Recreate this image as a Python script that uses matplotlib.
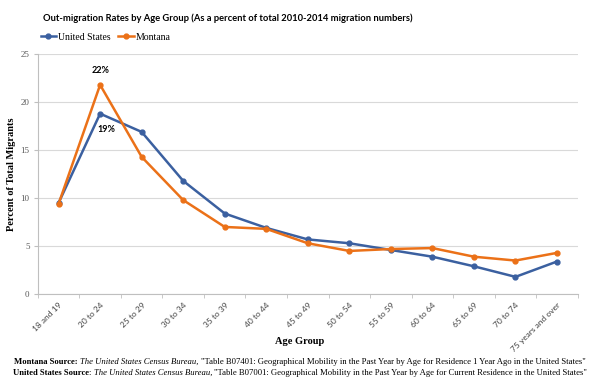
import matplotlib
matplotlib.use("Agg")
import matplotlib.pyplot as plt
import numpy as np

# Data
age_groups = ["18 and 19", "20 to 24", "25 to 29", "30 to 34", "35 to 39", "40 to 44",
              "45 to 49", "50 to 54", "55 to 59", "60 to 64", "65 to 69", "70 to 74",
              "75 years and over"]
us_values = [9.5, 18.8, 16.9, 11.8, 8.4, 6.9, 5.7, 5.3, 4.6, 3.9, 2.9, 1.8, 3.4]
mt_values = [9.4, 21.8, 14.3, 9.8, 7.0, 6.8, 5.3, 4.5, 4.7, 4.8, 3.9, 3.5, 4.3]

US_COLOR = "#3B60A0"
MT_COLOR = "#EB7118"
SANS = "Lato"
SERIF = "Liberation Serif"

fig = plt.figure(figsize=(6, 3.84), dpi=100, facecolor="white")
ax = fig.add_axes([0.063, 0.234, 0.9, 0.625])

x = np.arange(len(age_groups))
ax.plot(x, us_values, color=US_COLOR, lw=1.8, marker="o", ms=3.5, label="United States", zorder=3)
ax.plot(x, mt_values, color=MT_COLOR, lw=1.8, marker="o", ms=3.5, label="Montana", zorder=4)

# point labels at the peak
ax.annotate(f"{mt_values[1]:.0f}%", (x[1], mt_values[1]), xytext=(0, 7), textcoords="offset points",
            ha="center", va="bottom", fontsize=6.5, fontweight="bold", family=SANS)
ax.annotate(f"{us_values[1]:.0f}%", (x[1], us_values[1]), xytext=(4.5, -8), textcoords="offset points",
            ha="center", va="top", fontsize=6.5, fontweight="bold", family=SANS)

ax.set_xlim(-0.5, len(age_groups) - 0.5)
ax.set_ylim(0, 25)
ax.set_yticks([0, 5, 10, 15, 20, 25])
ax.yaxis.grid(True, color="#D9D9D9", lw=0.8)
ax.set_axisbelow(True)

# Excel-style category ticks between groups
ax.set_xticks(x)
ax.set_xticklabels(age_groups, rotation=45, ha="right", rotation_mode="anchor",
                   fontsize=6, family=SANS, color="#404040")
ax.tick_params(axis="x", length=0, pad=5)
ax.set_xticks(np.arange(len(age_groups) + 1) - 0.5, minor=True)
ax.tick_params(axis="x", which="minor", length=3, color="#BFBFBF")
ax.tick_params(axis="y", length=3, color="#BFBFBF", labelsize=6.5, labelcolor="#595959", pad=3)
for lab in ax.get_yticklabels():
    lab.set_family(SERIF)

for side in ["top", "right"]:
    ax.spines[side].set_visible(False)
for side in ["left", "bottom"]:
    ax.spines[side].set_color("#BFBFBF")
    ax.spines[side].set_linewidth(0.8)

ax.set_ylabel("Percent of Total Migrants", fontsize=7.5, fontweight="bold", family=SERIF, labelpad=3)
fig.text(0.5, 1 - 341 / 384, "Age Group", fontsize=7.5, fontweight="bold", family=SERIF,
         ha="center", va="center")

fig.canvas.draw()
renderer = fig.canvas.get_renderer()

# title, sized to the width it takes in the reference
title = fig.text(0.072, 0.953, "Out-migration Rates by Age Group (As a percent of total 2010-2014 migration numbers)",
                 fontsize=8, fontweight="bold", family=SANS, ha="left", va="center")
tw = title.get_window_extent(renderer).width
title.set_fontsize(8 * 370 / tw)

ax.legend(loc="center left", bbox_to_anchor=(0.005, 1.071), ncol=2, frameon=False,
          prop={"family": SERIF, "size": 7}, handlelength=1.6, handletextpad=0.2,
          columnspacing=0.8, borderaxespad=0, borderpad=0)

# source notes, built from bold / italic / plain pieces and centred
src_y = [1 - 362 / 384, 1 - 373 / 384]
src_parts = [
    [("Montana Source: ", "bold", "normal"),
     ("The United States Census Bureau, ", "normal", "italic"),
     ("\"Table B07401: Geographical Mobility in the Past Year by Age for Residence 1 Year Ago in the United States\"", "normal", "normal")],
    [("United States Source", "bold", "normal"),
     (": ", "normal", "normal"),
     ("The United States Census Bureau, ", "normal", "italic"),
     ("\"Table B07001: Geographical Mobility in the Past Year by Age for Current Residence in the United States\"", "normal", "normal")],
]
for yy, parts in zip(src_y, src_parts):
    texts = []
    total = 0
    for s, w, st in parts:
        t = fig.text(0, yy, s, fontsize=6.2, fontweight=w, style=st, family=SERIF, va="center")
        wpx = t.get_window_extent(renderer).width
        texts.append((t, wpx))
        total += wpx
    xpx = (fig.bbox.width - total) / 2
    for t, wpx in texts:
        t.set_x(xpx / fig.bbox.width)
        xpx += wpx

fig.savefig("out.png", dpi=100, facecolor="white")
